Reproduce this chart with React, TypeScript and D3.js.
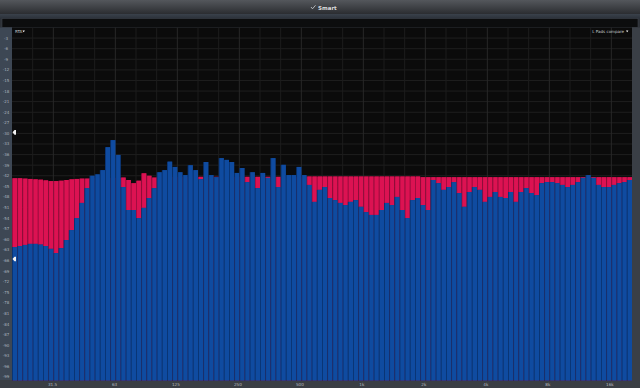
import React from "react";
import * as d3 from "d3";

// ---- data ----
const bandsPerOctave = 12;
const freqMin = 20;
const freqMax = 20480;

const blueDb = [
  -62.2, -61.9, -61.6, -61.3, -61.3, -61.5, -61.9, -62.7, -63.9, -62.5,
  -60.2, -57.4, -54.0, -49.7, -45.5, -42.0, -41.6, -40.4, -33.9, -31.9,
  -36.1, -45.2, -51.7, -51.7, -54.0, -51.1, -48.3, -45.5, -41.0, -40.4,
  -38.0, -39.5, -41.0, -41.8, -39.0, -40.4, -43.0, -38.1, -41.8, -42.4,
  -37.0, -37.5, -38.1, -41.2, -39.8, -43.8, -41.0, -45.5, -41.2, -42.6,
  -37.0, -45.2, -38.9, -41.8, -41.8, -39.5, -41.8, -44.6, -49.4, -46.0,
  -45.2, -48.3, -48.9, -49.7, -50.3, -49.4, -48.9, -50.8, -52.3, -53.1,
  -53.1, -51.7, -49.7, -50.3, -48.0, -51.7, -54.0, -48.9, -48.3, -50.3,
  -51.7, -43.2, -44.1, -46.0, -45.2, -43.8, -46.9, -50.8, -46.6, -45.2,
  -46.0, -49.4, -48.0, -46.6, -48.0, -48.3, -46.6, -49.4, -46.6, -45.5,
  -46.9, -47.5, -44.1, -43.8, -43.8, -44.1, -44.6, -45.2, -44.6, -43.8,
  -42.6, -41.8, -42.6, -44.6, -45.2, -45.2, -44.6, -44.1, -43.8, -43.2,
];

const redDb = [
  -42.7, -42.7, -42.8, -42.9, -43.0, -43.1, -43.3, -43.5, -43.5, -43.4,
  -43.2, -43.0, -42.9, -42.8, -42.8, -42.6, -42.6, -42.6, -42.6, -42.6,
  -42.6, -42.5, -43.2, -44.1, -43.4, -41.3, -42.0, -42.5, -42.3, -42.3,
  -42.3, -42.3, -42.3, -42.3, -42.3, -42.3, -42.3, -42.3, -42.3, -42.3,
  -42.3, -42.3, -42.3, -42.3, -42.3, -42.3, -42.3, -42.3, -42.3, -42.3,
  -42.3, -42.3, -42.3, -42.3, -42.3, -42.3, -42.2, -42.2, -42.2, -42.2,
  -42.2, -42.2, -42.2, -42.2, -42.2, -42.2, -42.2, -42.2, -42.2, -42.2,
  -42.2, -42.2, -42.2, -42.2, -42.2, -42.2, -42.2, -42.2, -42.2, -42.4,
  -42.4, -42.4, -42.4, -42.4, -42.4, -42.4, -42.4, -42.4, -42.4, -42.4,
  -42.4, -42.4, -42.4, -42.4, -42.4, -42.4, -42.4, -42.4, -42.4, -42.4,
  -42.4, -42.4, -42.4, -42.4, -42.4, -42.4, -42.4, -42.4, -42.4, -42.4,
  -42.4, -42.4, -42.4, -42.4, -42.4, -42.4, -42.4, -42.4, -42.4, -42.4,
];

const yTickValues = [
  -3, -6, -9, -12, -15, -18, -21, -24, -27, -30, -33, -36, -39, -42, -45, -48,
  -51, -54, -57, -60, -63, -66, -69, -72, -75, -78, -81, -84, -87, -90, -93, -96, -99,
];
const xTickValues = [31.5, 63, 125, 250, 500, 1000, 2000, 4000, 8000, 16000];
const xTickLabels = ["31.5", "63", "125", "250", "500", "1k", "2k", "4k", "8k", "16k"];
const markerDb = [-29.7, -65.6];

const W = 640;
const H = 388;
const L = 12, R = 632, T = 27.5, B = 380.5;

export default function App() {
  const x = d3.scaleLog().domain([freqMin, freqMax]).range([L, R]);
  const y = d3.scaleLinear().domain([0, -100]).range([T, B]);

  const bandEdge = (i: number) => freqMin * Math.pow(2, i / bandsPerOctave);
  const thirdLines = d3.range(1, 30).map((k) => freqMin * Math.pow(2, k / 3));

  const font = "DejaVu Sans, sans-serif";

  return (
    <svg
      width={W}
      height={H}
      style={{ position: "absolute", left: 0, top: 0, display: "block" }}
      xmlns="http://www.w3.org/2000/svg"
    >
      <defs>
        <linearGradient id="title" x1="0" y1="0" x2="0" y2="1">
          <stop offset="0" stopColor="#54575c" />
          <stop offset="1" stopColor="#2b2d31" />
        </linearGradient>
        <linearGradient id="band" x1="0" y1="0" x2="0" y2="1">
          <stop offset="0" stopColor="#3a414b" />
          <stop offset="1" stopColor="#2a3038" />
        </linearGradient>
      </defs>
      {/* window chrome */}
      <rect x={0} y={0} width={W} height={H} fill="#2d3137" />
      <rect x={0} y={0} width={W} height={14} fill="url(#title)" />
      <rect x={0} y={14} width={W} height={5} fill="url(#band)" />
      <rect x={2} y={18.5} width={W - 4} height={9} fill="#0c0d0e" stroke="#3c424a" strokeWidth={0.6} />
      <text x={318} y={9.5} fontFamily={font} fontSize={5.5} fontWeight="bold" fill="#d9dadc">
        Smart
      </text>
      <path d="M311,7 l1.5,1.8 l3,-3.5" stroke="#cfd2d6" strokeWidth={0.8} fill="none" />

      {/* side strips */}
      <rect x={0} y={T} width={L} height={B - T} fill="#3d4754" />
      <rect x={R} y={T} width={W - R} height={B - T} fill="#3a3f46" />
      <rect x={0} y={B - 0.5} width={W} height={H - B + 0.5} fill="#3a3e44" />

      {/* plot background */}
      <rect x={L} y={T} width={R - L} height={B - T} fill="#0b0b0b" />

      {/* grid */}
      {yTickValues.map((v) => (
        <line key={"h" + v} x1={L} x2={R} y1={y(v)} y2={y(v)} stroke="#1f1f1f" strokeWidth={1} />
      ))}
      {thirdLines.map((f, k) => (
        <line
          key={"v" + k}
          x1={x(f)}
          x2={x(f)}
          y1={T}
          y2={B}
          stroke={(k + 2) % 3 === 0 ? "#282828" : "#1d1d1d"}
          strokeWidth={1}
        />
      ))}

      {/* red bars (hold) */}
      {redDb.map((v, i) => {
        const x0 = x(bandEdge(i));
        const x1 = x(bandEdge(i + 1));
        return (
          <g key={"r" + i}>
            <rect x={x0} y={y(v)} width={x1 - x0} height={B - y(v)} fill="#9e0d3f" />
            <rect x={x0 + 0.9} y={y(v)} width={x1 - x0 - 0.9} height={B - y(v)} fill="#dc1252" />
          </g>
        );
      })}

      {/* blue bars (live) */}
      {blueDb.map((v, i) => {
        const x0 = x(bandEdge(i));
        const x1 = x(bandEdge(i + 1));
        return (
          <g key={"b" + i}>
            <rect x={x0} y={y(v)} width={x1 - x0} height={B - y(v)} fill="#0a3472" />
            <rect x={x0 + 0.9} y={y(v)} width={x1 - x0 - 0.9} height={B - y(v)} fill="#0f4ba0" />
          </g>
        );
      })}

      {/* y labels */}
      {yTickValues.map((v) => (
        <text
          key={"yl" + v}
          x={6}
          y={y(v) + 1.5}
          textAnchor="middle"
          fontFamily={font}
          fontSize={4}
          fill="#aab4bf"
        >
          {v}
        </text>
      ))}

      {/* x labels */}
      {xTickValues.map((f, i) => (
        <text
          key={"xl" + f}
          x={x(f)}
          y={385.5}
          textAnchor="middle"
          fontFamily={font}
          fontSize={4.2}
          fill="#b4b9bf"
        >
          {xTickLabels[i]}
        </text>
      ))}

      {/* markers */}
      {markerDb.map((v) => (
        <path
          key={"m" + v}
          d={`M${L + 0.5},${y(v)} L${L + 2.5},${y(v) - 2.3} L${L + 4},${y(v) - 2.3} L${L + 4},${y(v) + 2.3} L${L + 2.5},${y(v) + 2.3} Z`}
          fill="#f2f2f2"
        />
      ))}

      {/* corner labels */}
      <text x={15} y={33} fontFamily={font} fontSize={4} fill="#c9ccd0">
        RTA
      </text>
      <path d="M22.5,30.5 h2.4 l-1.2,1.8 Z" fill="#ffffff" />
      <text x={624} y={33} textAnchor="end" fontFamily={font} fontSize={4} fill="#c9ccd0">
        L Pads compare
      </text>
      <path d="M626,30.5 h2.4 l-1.2,1.8 Z" fill="#ffffff" />
    </svg>
  );
}
